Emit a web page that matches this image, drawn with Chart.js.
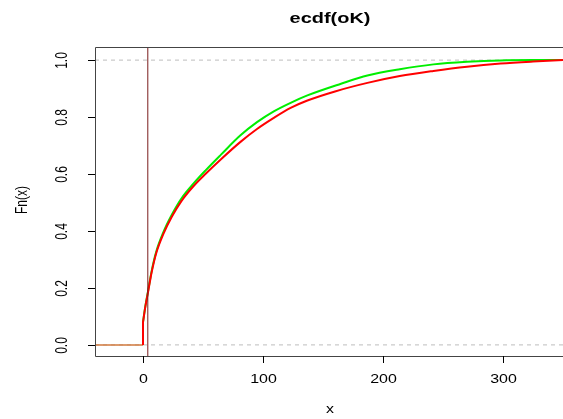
<!DOCTYPE html>
<html>
<head>
<meta charset="utf-8">
<script src="https://cdn.jsdelivr.net/npm/chart.js@4"></script>
<style>
  html, body { margin: 0; padding: 0; background: #fff; }
  #wrap { width: 563px; height: 419px; position: relative; overflow: hidden; }
</style>
</head>
<body>
<div id="wrap"><canvas id="chart"></canvas></div>
<script>

const redX   = [0, 2, 4.4, 7.2, 11, 17, 24, 32, 42, 52, 65, 81, 95, 109, 123, 137, 160, 187, 214, 242, 270, 298, 325, 350];
const redY   = [0.08, 0.135, 0.19, 0.255, 0.322, 0.39, 0.45, 0.505, 0.557, 0.6, 0.652, 0.712, 0.758, 0.797, 0.832, 0.858, 0.89, 0.92, 0.944, 0.962, 0.977, 0.988, 0.995, 1.0];
const greenX = [0, 2, 4.4, 7.2, 11, 17, 24, 32, 42, 52, 65, 81, 95, 109, 123, 137, 165, 187, 214, 242, 270, 298, 325, 350];
const greenY = [0.08, 0.137, 0.193, 0.259, 0.327, 0.396, 0.457, 0.514, 0.566, 0.612, 0.668, 0.735, 0.782, 0.82, 0.85, 0.876, 0.917, 0.946, 0.968, 0.985, 0.994, 0.999, 1.0, 1.0];
const jumpY  = [0, 0.08];         // step of both ecdfs at x = 0
const zeroX  = [-40, 0];          // both ecdfs are 0 left of the origin
const markX  = 4;                 // vertical marker line
const xTicks = [0, 100, 200, 300];
const yTicks = [0.0, 0.2, 0.4, 0.6, 0.8, 1.0];

const X_MIN = -40, X_MAX = 350, Y_MIN = -0.039, Y_MAX = 1.046;
const STRETCH = 1.33;  // reference text is widened horizontally

const pts = (xs, ys) => xs.map((x, i) => ({ x, y: ys[i] }));

function txt(ctx, s, x, y, rot) {
  ctx.save();
  ctx.translate(x, y);
  ctx.scale(STRETCH, 1);
  ctx.rotate(rot || 0);
  ctx.fillText(s, 0, 0);
  ctx.restore();
}

const axesPlugin = {
  id: 'rAxes',
  afterDraw(chart) {
    const ctx = chart.ctx;
    const a = chart.chartArea;
    const xs = chart.scales.x, ys = chart.scales.y;
    ctx.save();
    // box
    ctx.strokeStyle = '#444';
    ctx.lineWidth = 1;
    ctx.beginPath();
    ctx.moveTo(a.right + 1, a.top + 0.5);
    ctx.lineTo(a.left + 0.5, a.top + 0.5);
    ctx.lineTo(a.left + 0.5, a.bottom + 0.5);
    ctx.lineTo(a.right + 1, a.bottom + 0.5);
    ctx.stroke();

    ctx.strokeStyle = '#000';
    ctx.fillStyle = '#000';
    ctx.font = '12px "Liberation Sans", Arial, sans-serif';
    ctx.textAlign = 'center';
    ctx.textBaseline = 'middle';
    // x ticks
    xTicks.forEach(v => {
      const px = Math.round(xs.getPixelForValue(v)) + 0.5;
      ctx.beginPath();
      ctx.moveTo(px, a.bottom);
      ctx.lineTo(px, a.bottom + 7);
      ctx.stroke();
      txt(ctx, String(v), px, 380);
    });
    // y ticks
    yTicks.forEach(v => {
      const py = Math.round(ys.getPixelForValue(v)) + 0.5;
      ctx.beginPath();
      ctx.moveTo(a.left - 7, py);
      ctx.lineTo(a.left, py);
      ctx.stroke();
      txt(ctx, v.toFixed(1), 63, py, -Math.PI / 2);
    });
    // axis titles
    txt(ctx, 'x', 330, 410);
    txt(ctx, 'Fn(x)', 23, 200, -Math.PI / 2);
    ctx.font = 'bold 15px "Liberation Sans", Arial, sans-serif';
    txt(ctx, 'ecdf(oK)', 330, 19);
    ctx.restore();
  }
};

new Chart(document.getElementById('chart'), {
  type: 'line',
  data: {
    datasets: [
      { data: [{ x: markX, y: Y_MIN }, { x: markX, y: Y_MAX }], borderColor: '#7a1c1c', borderWidth: 1 },
      { data: pts(redX, redY), borderColor: '#ff0000', borderWidth: 2, cubicInterpolationMode: 'monotone' },
      { data: pts([0, 0], jumpY), borderColor: '#ff0000', borderWidth: 2 },
      { data: pts(greenX, greenY), borderColor: '#00ee00', borderWidth: 2, cubicInterpolationMode: 'monotone' },
      { data: pts(zeroX, [0, 0]), borderColor: '#d0783c', borderWidth: 1.5 },
      { data: pts([X_MIN, X_MAX], [0, 0]), borderColor: '#bdbdbd', borderWidth: 1, borderDash: [4, 4] },
      { data: pts([X_MIN, X_MAX], [1, 1]), borderColor: '#bdbdbd', borderWidth: 1, borderDash: [4, 4] }
    ]
  },
  options: {
    responsive: true,
    maintainAspectRatio: false,
    animation: false,
    events: [],
    layout: { padding: { left: 0, top: 47, right: 0, bottom: 0 } },
    elements: { point: { radius: 0 }, line: { tension: 0 } },
    plugins: { legend: { display: false }, tooltip: { enabled: false } },
    scales: {
      x: {
        type: 'linear', min: X_MIN, max: X_MAX,
        grid: { display: false }, border: { display: false }, ticks: { display: false },
        afterFit(s) { s.height = 63; }
      },
      y: {
        type: 'linear', min: Y_MIN, max: Y_MAX,
        grid: { display: false }, border: { display: false }, ticks: { display: false },
        afterFit(s) { s.width = 95; }
      }
    }
  },
  plugins: [axesPlugin]
});
</script>
</body>
</html>
